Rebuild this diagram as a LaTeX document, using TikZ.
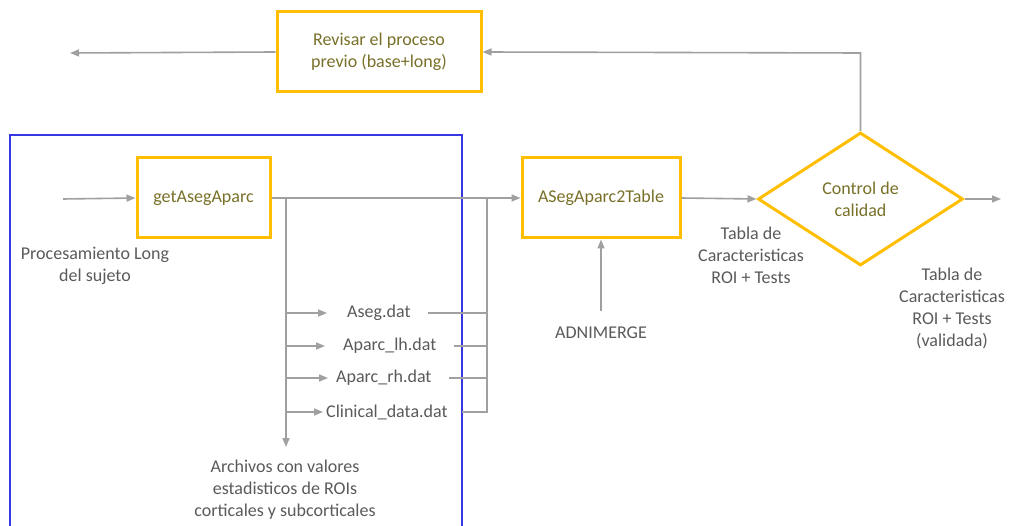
\documentclass[tikz,border=0pt]{standalone}
\usepackage{fontspec}
\setmainfont{Carlito}
\usetikzlibrary{arrows.meta,shapes.geometric}
\definecolor{boxorange}{RGB}{255,190,0}
\definecolor{boxtext}{RGB}{120,112,40}
\definecolor{linegray}{RGB}{160,160,160}
\definecolor{labelgray}{RGB}{90,90,90}
\definecolor{frameblue}{RGB}{55,55,225}
\tikzset{
  procbox/.style={draw=boxorange, line width=3pt, rectangle, align=center,
    text=boxtext, font=\fontsize{18}{22}\selectfont, inner sep=0pt},
  decision/.style={draw=boxorange, line width=3pt, diamond, align=center,
    text=boxtext, font=\fontsize{18}{22}\selectfont, inner sep=0pt},
  lbl/.style={align=center, text=labelgray, font=\fontsize{18}{22}\selectfont, inner sep=2pt},
  flow/.style={draw=linegray, line width=1.6pt,
    -{Triangle[length=9pt,width=7pt]}},
  plain/.style={draw=linegray, line width=1.6pt},
}
\begin{document}
\begin{tikzpicture}[x=1pt,y=-1pt]
\useasboundingbox (0,0) rectangle (1009,526);

% frame around the per-subject stage
\draw[frameblue, line width=2.6pt] (10,540) -- (10,135) -- (462,135) -- (462,540);

% process boxes
\node[procbox, minimum width=204pt, minimum height=80pt] (revisar) at (379,52)
  {Revisar el proceso\\previo (base+long)};
\node[procbox, minimum width=133pt, minimum height=80pt] (get) at (203.5,198)
  {getAsegAparc};
\node[procbox, minimum width=158pt, minimum height=80pt] (tab) at (601,198)
  {ASegAparc2Table};
\node[decision, minimum width=205pt, minimum height=133pt, shape aspect=1.54] (ctrl) at (860.5,199)
  {Control de\\calidad};

% labels
\node[lbl] (proc) at (95,266) {Procesamiento Long\\del sujeto};
\node[lbl] (arch) at (285,490) {Archivos con valores\\estadisticos de ROIs\\corticales y subcorticales};
\node[lbl] (adni) at (601,333) {ADNIMERGE};
\node[lbl] (tabla) at (751,255) {Tabla de\\Caracteristicas\\ROI + Tests};
\node[lbl] (tablav) at (952,308) {Tabla de\\Caracteristicas\\ROI + Tests\\(validada)};

% output files
\node[lbl, anchor=west] (aseg) at (345,313) {Aseg.dat};
\node[lbl, anchor=west] (lh) at (341,346) {Aparc\_lh.dat};
\node[lbl, anchor=west] (rh) at (334,378) {Aparc\_rh.dat};
\node[lbl, anchor=west] (clin) at (324,412) {Clinical\_data.dat};

% branch and collector points
\coordinate (in) at (63,199);
\coordinate (split) at (286,199);
\coordinate (splitend) at (286,447);
\coordinate (b1) at (286,313);
\coordinate (b2) at (286,346);
\coordinate (b3) at (286,378);
\coordinate (b4) at (286,412);
\coordinate (bustop) at (487,199);
\coordinate (bus1) at (487,313);
\coordinate (bus2) at (487,346);
\coordinate (bus3) at (487,378);
\coordinate (bus4) at (487,412);
\coordinate (back) at (70,53);
\coordinate (out) at (1001,199);
\coordinate (loop) at (860.5,53);

% connectors
\draw[flow] (in) -- (get.west);
\draw[flow] (get.east) -- (tab.west);
\draw[flow] (split) -- (splitend);
\draw[flow, shorten >=18pt] (b1) -- (aseg.west);
\draw[flow, shorten >=16pt] (b2) -- (lh.west);
\draw[flow, shorten >=6pt] (b3) -- (rh.west);
\draw[flow, shorten >=1pt] (b4) -- (clin.west);
\draw[plain, shorten <=15pt] (aseg.east) -- (bus1);
\draw[plain, shorten <=15pt] (lh.east) -- (bus2);
\draw[plain, shorten <=15pt] (rh.east) -- (bus3);
\draw[plain, shorten <=12pt] (clin.east) -- (bus4) -- (bustop);
\draw[flow, shorten <=14pt] (adni.north) -- (tab.south);
\draw[flow] (tab.east) -- (ctrl.west);
\draw[flow] (ctrl.east) -- (out);
\draw[flow] (ctrl.north) -- (loop) -- (revisar.east);
\draw[flow] (revisar.west) -- (back);
\end{tikzpicture}
\end{document}
